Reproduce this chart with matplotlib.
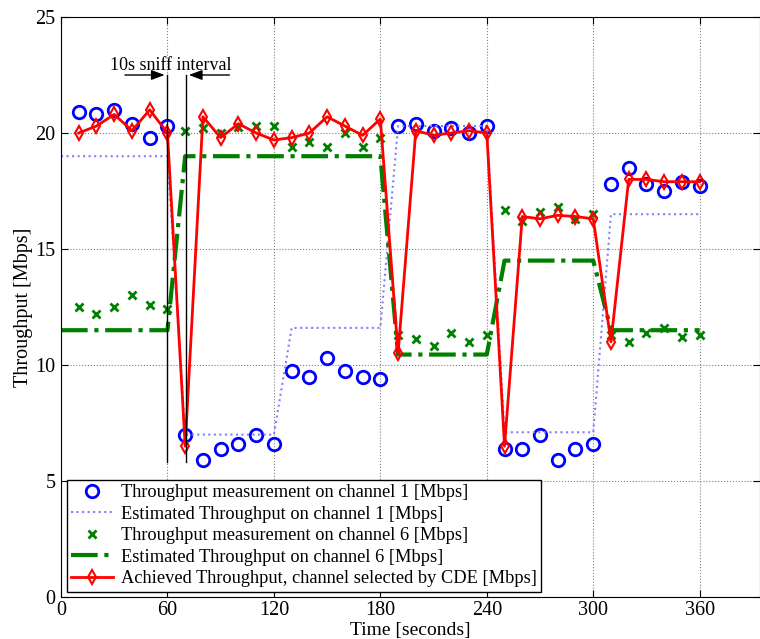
import numpy as np
import matplotlib.pyplot as plt

plt.rcParams['font.family'] = ['Liberation Serif', 'DejaVu Serif']
plt.rcParams['mathtext.fontset'] = 'stix'

# ================================
# data (time in seconds, throughput in Mbps)

t_meas = list(range(10, 361, 10))
t_est = list(range(0, 361, 10))

ch1_meas = [20.9, 20.8, 21.0, 20.4, 19.8, 20.3,
            7.0, 5.9, 6.4, 6.6, 7.0, 6.6,
            9.75, 9.5, 10.3, 9.75, 9.5, 9.4,
            20.3, 20.4, 20.1, 20.2, 20.0, 20.3,
            6.4, 6.4, 7.0, 5.9, 6.4, 6.6,
            17.8, 18.5, 17.8, 17.5, 17.9, 17.7]

ch1_est = [19.0] * 7 + [7.0] * 6 + [11.6] * 6 + [20.3] * 6 + [7.1] * 6 + [16.5] * 6

ch6_meas = [12.5, 12.2, 12.5, 13.0, 12.6, 12.4,
            20.1, 20.2, 20.0, 20.25, 20.3, 20.3,
            19.4, 19.6, 19.4, 20.0, 19.4, 19.8,
            11.3, 11.1, 10.8, 11.4, 11.0, 11.3,
            16.7, 16.2, 16.6, 16.8, 16.3, 16.5,
            11.3, 11.0, 11.4, 11.6, 11.2, 11.3]

ch6_est = [11.5] * 7 + [19.0] * 12 + [10.45] * 6 + [14.5] * 6 + [11.5] * 6

achieved = [20.0, 20.3, 20.8, 20.1, 21.0, 20.0,
            6.5, 20.7, 19.8, 20.4, 20.0, 19.7,
            19.8, 20.0, 20.7, 20.3, 19.9, 20.6,
            10.5, 20.1, 19.9, 20.0, 20.1, 20.0,
            6.5, 16.4, 16.3, 16.45, 16.4, 16.3,
            11.0, 18.0, 18.0, 17.9, 17.9, 17.9]

x_ticks = [0, 60, 120, 180, 240, 300, 360]
y_ticks = [0, 5, 10, 15, 20, 25]

# ================================
# plot

fig = plt.figure(figsize=(7.6, 6.39), dpi=100)
ax = fig.add_axes([61 / 760, 42 / 639, 699 / 760, 580 / 639])

green = (0, 0.5, 0)

ax.plot(t_meas, ch1_meas, 'o', color='blue', mfc='none', ms=9, mew=2,
        linestyle='none', label='Throughput measurement on channel 1 [Mbps]')
ax.plot(t_est, ch1_est, ':', color=(0.5, 0.5, 1.0), lw=1.5,
        label='Estimated Throughput on channel 1 [Mbps]')
ax.plot(t_meas, ch6_meas, 'x', color=green, ms=6, mew=2,
        linestyle='none', label='Throughput measurement on channel 6 [Mbps]')
ax.plot(t_est, ch6_est, '-.', color=green, lw=3,
        label='Estimated Throughput on channel 6 [Mbps]')
ax.plot(t_meas, achieved, '-', color='red', lw=2, marker='d', mfc='none',
        ms=7, mew=1.5,
        label='Achieved Throughput, channel selected by CDE [Mbps]')

# sniff interval annotation
ax.plot([60, 60], [5.8, 22.5], color='black', lw=1)
ax.plot([70.5, 70.5], [5.8, 22.5], color='black', lw=1)
ax.annotate('', xy=(60, 22.5), xytext=(34.5, 22.5),
            arrowprops=dict(arrowstyle='-|>,head_width=0.3,head_length=0.8',
                            color='black', lw=1))
ax.annotate('', xy=(70.5, 22.5), xytext=(96.5, 22.5),
            arrowprops=dict(arrowstyle='-|>,head_width=0.3,head_length=0.8',
                            color='black', lw=1))
ax.text(62, 22.9, '10s sniff interval', ha='center', va='center', fontsize=13)

ax.set_xlim(0, 394)
ax.set_ylim(0, 25)
ax.set_xticks(x_ticks)
ax.set_yticks(y_ticks)
ax.tick_params(direction='in', labelsize=14.5, top=True, right=True, length=5)
ax.tick_params(axis='x', pad=3)
ax.tick_params(axis='y', pad=4)
ax.grid(True, linestyle=':', color='gray', lw=0.8)

ax.set_xlabel('Time [seconds]', fontsize=14, labelpad=1)
ax.set_ylabel('Throughput [Mbps]', fontsize=14.5, labelpad=2)

leg = ax.legend(loc='lower left', fontsize=13.2, fancybox=False, edgecolor='black',
                framealpha=1, borderaxespad=0.3, labelspacing=0.24,
                handlelength=2.3, handletextpad=0.4, borderpad=0.25)
leg.get_frame().set_linewidth(1)

plt.savefig('out.png', dpi=100)
